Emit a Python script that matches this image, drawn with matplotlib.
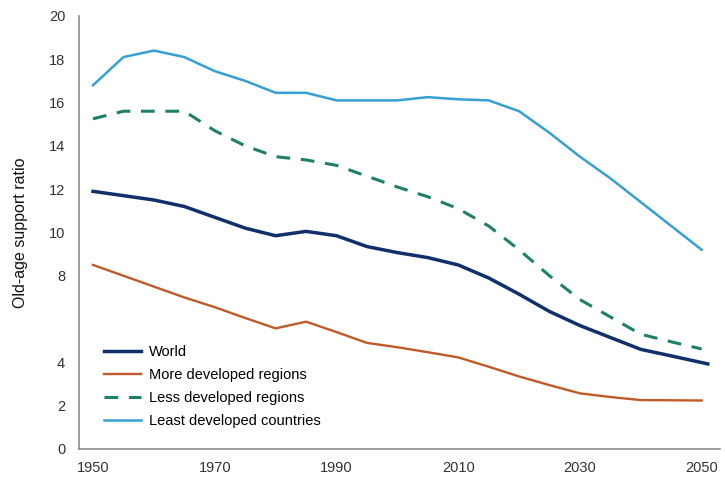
import matplotlib
matplotlib.use("Agg")
import matplotlib.pyplot as plt

plt.rcParams['font.family'] = ['Liberation Sans', 'DejaVu Sans']

# data
years = [1950, 1955, 1960, 1965, 1970, 1975, 1980, 1985, 1990, 1995, 2000,
         2005, 2010, 2015, 2020, 2025, 2030, 2035, 2040, 2045, 2050]
world_years = years[:-1] + [2051]

world = [11.9, 11.7, 11.5, 11.2, 10.7, 10.2, 9.85, 10.05, 9.85, 9.35, 9.07,
         8.84, 8.5, 7.9, 7.15, 6.35, 5.7, 5.15, 4.6, 4.3, 3.93]
more_dev = [8.5, 8.0, 7.5, 7.0, 6.55, 6.05, 5.57, 5.88, 5.4, 4.9, 4.7,
            4.47, 4.23, 3.8, 3.35, 2.95, 2.57, 2.4, 2.26, 2.25, 2.24]
less_dev = [15.25, 15.6, 15.6, 15.6, 14.7, 14.0, 13.5, 13.35, 13.1, 12.6, 12.1,
            11.65, 11.1, 10.3, 9.2, 8.0, 6.9, 6.1, 5.3, 4.95, 4.62]
least_dev = [16.8, 18.1, 18.4, 18.1, 17.45, 17.0, 16.45, 16.45, 16.1, 16.1, 16.1,
             16.25, 16.15, 16.1, 15.6, 14.6, 13.5, 12.5, 11.4, 10.3, 9.2]

labels = ['World', 'More developed regions', 'Less developed regions',
          'Least developed countries']
yticks = [0, 2, 4, 8, 10, 12, 14, 16, 18, 20]
xticks = [1950, 1970, 1990, 2010, 2030, 2050]

fig = plt.figure(figsize=(7.25, 4.83), dpi=100)
ax = fig.add_axes([0.109, 0.0704, 0.884, 0.8966])

ax.plot(world_years, world, color='#102f6b', lw=2.5, label=labels[0])
ax.plot(years, more_dev, color='#c05a28', lw=1.7, label=labels[1])
ax.plot(years, less_dev, color='#1e7f6a', lw=2.2, dashes=(4.5, 3.5), label=labels[2])
ax.plot(years, least_dev, color='#35a0d3', lw=1.8, label=labels[3])

ax.set_xlim(1947.7, 2053)
ax.set_ylim(0, 20)
ax.set_yticks(yticks)
ax.set_xticks(xticks)
ax.tick_params(length=0, labelsize=10.5, colors='#333333')
ax.tick_params(axis='y', pad=10)
ax.tick_params(axis='x', pad=9)

for s in ['top', 'right']:
    ax.spines[s].set_visible(False)
for s in ['left', 'bottom']:
    ax.spines[s].set_color('#8c8c8c')
    ax.spines[s].set_linewidth(1.2)

ax.set_ylabel('Old-age support ratio', fontsize=11.5, color='#111111', labelpad=15)

ax.legend(loc='upper left', bbox_to_anchor=(0.030, 0.254), frameon=False,
          fontsize=10.5, handlelength=2.5, handletextpad=0.55, labelspacing=0.63,
          borderaxespad=0)

fig.savefig('out.png', dpi=100)
